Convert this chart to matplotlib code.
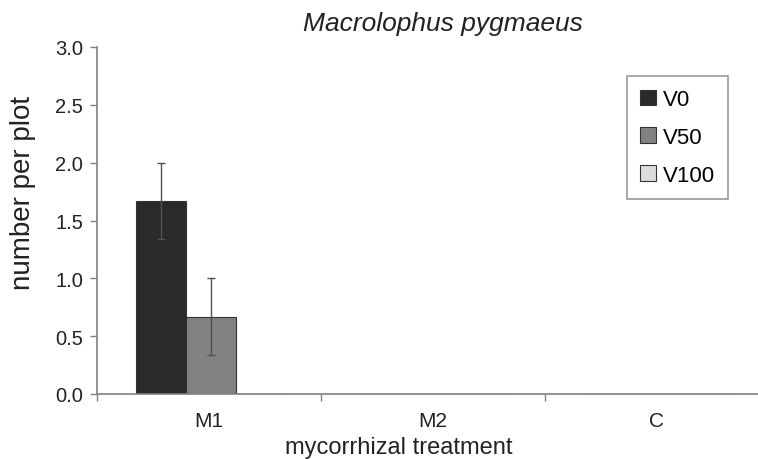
import matplotlib
matplotlib.use("Agg")
import matplotlib.pyplot as plt
import numpy as np
from matplotlib.patches import Patch

categories = ["M1", "M2", "C"]
series_names = ["V0", "V50", "V100"]
values = {
    "V0": [1.67, 0.0, 0.0],
    "V50": [0.67, 0.0, 0.0],
    "V100": [0.0, 0.0, 0.0],
}
errors = {
    "V0": [0.33, 0.0, 0.0],
    "V50": [0.33, 0.0, 0.0],
    "V100": [0.0, 0.0, 0.0],
}
colors = {"V0": "#2a2a2a", "V50": "#828282", "V100": "#dcdcdc"}
yticks = [0.0, 0.5, 1.0, 1.5, 2.0, 2.5, 3.0]

plt.rcParams['font.family'] = ['Liberation Sans', 'DejaVu Sans']

fig = plt.figure(figsize=(7.58, 4.60), dpi=100)
W, H = 758, 460
left, right, bottom, top = 97, 769, 395, 48
ax = fig.add_axes([left / W, 1 - bottom / H, (right - left) / W, (bottom - top) / H])

x = np.arange(len(categories))
w = 0.223
offsets = [-w, 0.0, w]
for name, off in zip(series_names, offsets):
    vals = np.array(values[name])
    errs = np.array(errors[name])
    ax.bar(x + off + 0.008, vals, width=w, color=colors[name], edgecolor="#333333",
           linewidth=0.8, zorder=2)
    mask = errs > 0
    if mask.any():
        ax.errorbar((x + off + 0.008)[mask], vals[mask], yerr=errs[mask], fmt="none",
                    ecolor="#505050", elinewidth=1.0, capsize=3, capthick=1.0, zorder=3)

ax.set_xlim(-0.5, 2.5)
ax.set_ylim(0, 3.0)
ax.set_yticks(yticks)
ax.set_yticklabels([f"{t:.1f}" for t in yticks], fontsize=14.5, color="#222222")
ax.set_xticks(x)
ax.set_xticklabels(categories, fontsize=15, color="#222222")
ax.set_xticks(np.arange(-0.5, 3.0, 1.0), minor=True)
ax.tick_params(axis="x", which="major", length=0, pad=12)
ax.tick_params(axis="x", which="minor", length=5, width=1, color="#808080", direction="out")
ax.tick_params(axis="y", which="major", length=5, width=1, color="#808080", direction="out", pad=5)

for s in ["top", "right"]:
    ax.spines[s].set_visible(False)
for s in ["left", "bottom"]:
    ax.spines[s].set_color("#808080")
    ax.spines[s].set_linewidth(1.2)

fig.text(443 / W, 1 - 24 / H, "Macrolophus pygmaeus", fontsize=19, style="italic",
         ha="center", va="center", color="#222222")
fig.text(23 / W, 1 - 193 / H, "number per plot", fontsize=20, rotation=90,
         ha="center", va="center", color="#222222")
fig.text(399 / W, 1 - 448 / H, "mycorrhizal treatment", fontsize=17,
         ha="center", va="center", color="#222222")

handles = [Patch(facecolor=colors[n], edgecolor="#333333", linewidth=0.8) for n in series_names]
leg = ax.legend(handles, series_names, loc="upper left",
                bbox_to_anchor=((627 - left) / (right - left), 1 - (77 - top) / (bottom - top)),
                fontsize=16, frameon=True, fancybox=False, edgecolor="#808080",
                handlelength=0.7, handleheight=0.7, handletextpad=0.3,
                labelspacing=0.75, borderpad=0.6, borderaxespad=0)
leg.get_frame().set_linewidth(1.2)

fig.savefig("out.png", dpi=100)
